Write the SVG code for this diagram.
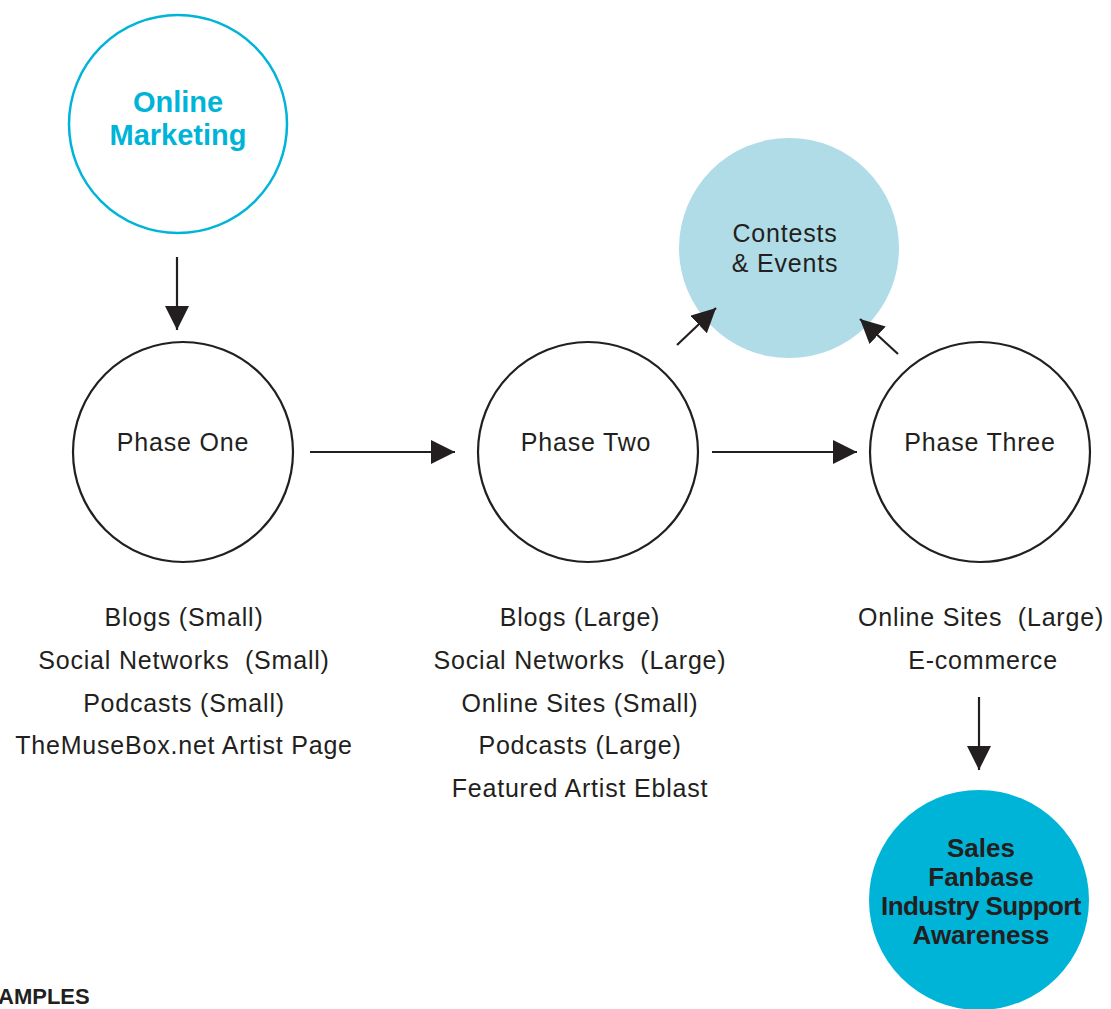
<svg xmlns="http://www.w3.org/2000/svg" width="1111" height="1009" viewBox="0 0 1111 1009">
<style>
.t{font-family:"Liberation Sans",Arial,sans-serif;fill:#231f20;font-size:25px;text-anchor:middle;letter-spacing:0.8px;white-space:pre}
.b{font-family:"Liberation Sans",Arial,sans-serif;font-weight:bold;text-anchor:middle}
.c{stroke:#231f20;stroke-width:2.2;fill:#fff}
.a{stroke:#231f20;stroke-width:2.2;fill:none;marker-end:url(#ah)}
</style>
<defs>
<marker id="ah" markerUnits="userSpaceOnUse" markerWidth="26" markerHeight="26" refX="24" refY="12" orient="auto" viewBox="0 0 26 26">
<path d="M0,0 L24,12 L0,24 z" fill="#231f20"/>
</marker>
</defs>
<rect width="1111" height="1009" fill="#fff"/>
<g id="online-marketing">
<circle cx="178" cy="124" r="109" fill="#fff" stroke="#00b4d8" stroke-width="2.5"/>
<text class="b" x="178" y="112" font-size="29" fill="#00b4d8">Online</text>
<text class="b" x="178" y="145" font-size="29" fill="#00b4d8">Marketing</text>
</g>
<g id="phase-one">
<circle class="c" cx="183" cy="452" r="110"/>
<text class="t" x="183" y="451">Phase One</text>
</g>
<g id="phase-two">
<circle class="c" cx="588" cy="452" r="110"/>
<text class="t" x="586" y="451">Phase Two</text>
</g>
<g id="phase-three">
<circle class="c" cx="980" cy="452" r="110"/>
<text class="t" x="980" y="451">Phase Three</text>
</g>
<g id="contests-events">
<circle cx="789" cy="248" r="110" fill="#b0dce7"/>
<text class="t" x="785" y="242">Contests</text>
<text class="t" x="785" y="272">&amp; Events</text>
</g>
<g id="results">
<circle cx="979" cy="900" r="110" fill="#00b4d8"/>
<text class="b" font-size="26" fill="#231f20" x="981" y="857">Sales</text>
<text class="b" font-size="26" fill="#231f20" x="981" y="886">Fanbase</text>
<text class="b" font-size="26" fill="#231f20" x="981" y="915" letter-spacing="-0.6">Industry Support</text>
<text class="b" font-size="26" fill="#231f20" x="981" y="944">Awareness</text>
</g>
<g id="phase-one-list">
<text class="t" x="184" y="626">Blogs (Small)</text>
<text class="t" x="184" y="669">Social Networks  (Small)</text>
<text class="t" x="184" y="712">Podcasts (Small)</text>
<text class="t" x="184" y="754">TheMuseBox.net Artist Page</text>
</g>
<g id="phase-two-list">
<text class="t" x="580" y="626">Blogs (Large)</text>
<text class="t" x="580" y="669">Social Networks  (Large)</text>
<text class="t" x="580" y="712">Online Sites (Small)</text>
<text class="t" x="580" y="754">Podcasts (Large)</text>
<text class="t" x="580" y="797">Featured Artist Eblast</text>
</g>
<g id="phase-three-list">
<text class="t" x="981" y="626">Online Sites  (Large)</text>
<text class="t" x="983" y="669">E-commerce</text>
</g>
<g id="examples-label">
<text x="-2" y="1004" font-family="Liberation Sans,Arial,sans-serif" font-weight="bold" font-size="22" fill="#231f20">AMPLES</text>
</g>
<g id="connectors">
<line class="a" x1="177" y1="257" x2="177" y2="330"/>
<line class="a" x1="310" y1="452" x2="455" y2="452"/>
<line class="a" x1="712" y1="452" x2="857" y2="452"/>
<line class="a" x1="677" y1="345" x2="716" y2="308"/>
<line class="a" x1="898" y1="354" x2="860" y2="319"/>
<line class="a" x1="979" y1="697" x2="979" y2="770"/>
</g>
</svg>
